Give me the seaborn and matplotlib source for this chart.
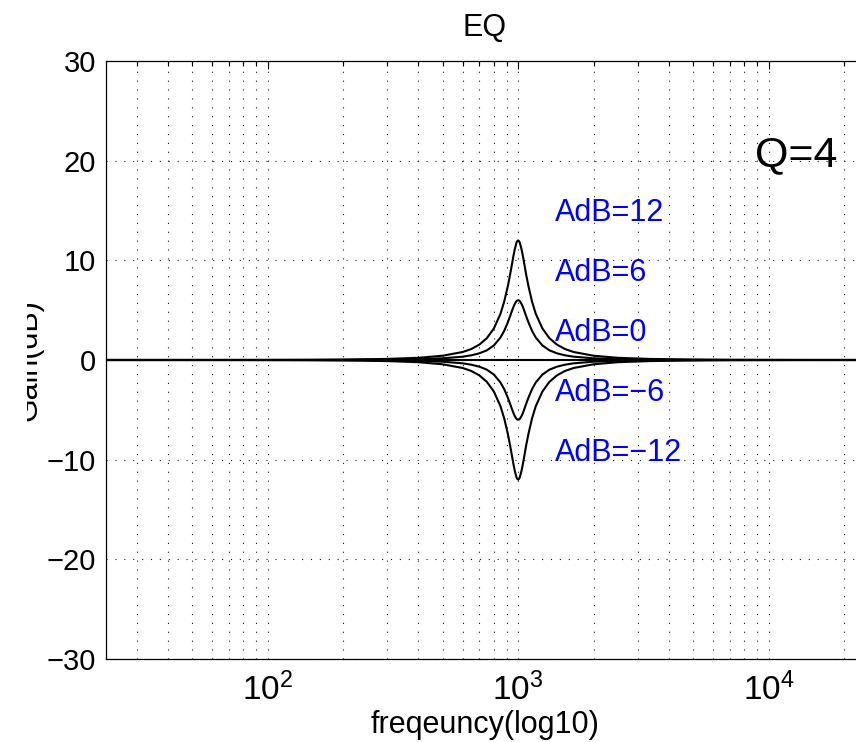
import pandas as pd
import matplotlib
matplotlib.use("Agg")
import matplotlib.pyplot as plt
import seaborn as sns
from matplotlib.ticker import LogLocator, NullFormatter, FixedLocator
from matplotlib.transforms import Bbox

# Data (peaking EQ, Q=4, centre 1 kHz)
freq_hz = [20, 50, 100, 150, 200, 300, 400, 500, 600, 650, 700, 750, 800, 850,
           880, 910, 930, 940, 950, 960, 970, 985, 990, 1000,
           1010, 1015, 1031, 1042, 1053, 1064, 1075, 1099, 1136, 1176, 1250,
           1333, 1429, 1538, 1667, 2000, 2500, 3333, 5000, 6667, 10000, 20000, 24000]

gain_p12 = [0.00, 0.00, 0.01, 0.02, 0.04, 0.11, 0.22, 0.43, 0.80, 1.10, 1.54, 2.19, 3.16, 4.63,
            5.87, 7.43, 8.65, 9.30, 9.95, 10.58, 11.14, 11.77, 11.90, 12.00,
            11.90, 11.77, 11.14, 10.58, 9.95, 9.30, 8.65, 7.43, 5.87, 4.63, 3.16,
            2.19, 1.54, 1.10, 0.80, 0.43, 0.22, 0.11, 0.04, 0.02, 0.01, 0.00, 0.00]

gain_p6 = [0.00, 0.00, 0.00, 0.01, 0.02, 0.04, 0.09, 0.17, 0.33, 0.47, 0.67, 0.97, 1.46, 2.25,
           2.93, 3.79, 4.44, 4.77, 5.09, 5.39, 5.64, 5.91, 5.96, 6.00,
           5.96, 5.91, 5.64, 5.39, 5.09, 4.77, 4.44, 3.79, 2.93, 2.25, 1.46,
           0.97, 0.67, 0.47, 0.33, 0.17, 0.09, 0.04, 0.02, 0.01, 0.00, 0.00, 0.00]

gain_0 = [0.0] * len(freq_hz)

gain_m6 = [-0.00, -0.00, -0.00, -0.01, -0.02, -0.04, -0.09, -0.17, -0.33, -0.47, -0.67, -0.97, -1.46, -2.25,
           -2.93, -3.79, -4.44, -4.77, -5.09, -5.39, -5.64, -5.91, -5.96, -6.00,
           -5.96, -5.91, -5.64, -5.39, -5.09, -4.77, -4.44, -3.79, -2.93, -2.25, -1.46,
           -0.97, -0.67, -0.47, -0.33, -0.17, -0.09, -0.04, -0.02, -0.01, -0.00, -0.00, -0.00]

gain_m12 = [-0.00, -0.00, -0.01, -0.02, -0.04, -0.11, -0.22, -0.43, -0.80, -1.10, -1.54, -2.19, -3.16, -4.63,
            -5.87, -7.43, -8.65, -9.30, -9.95, -10.58, -11.14, -11.77, -11.90, -12.00,
            -11.90, -11.77, -11.14, -10.58, -9.95, -9.30, -8.65, -7.43, -5.87, -4.63, -3.16,
            -2.19, -1.54, -1.10, -0.80, -0.43, -0.22, -0.11, -0.04, -0.02, -0.01, -0.00, -0.00]

curve_labels = ["AdB=12", "AdB=6", "AdB=0", "AdB=\u22126", "AdB=\u221212"]
curve_gains = [gain_p12, gain_p6, gain_0, gain_m6, gain_m12]

# long table for seaborn
rows = []
for name, g in zip(curve_labels, curve_gains):
    for f, v in zip(freq_hz, g):
        rows.append({"freq": f, "gain": v, "curve": name})
df = pd.DataFrame(rows)

sns.set_style("white")
plt.rcParams['font.family'] = ['Liberation Sans', 'DejaVu Sans']
plt.rcParams['mathtext.fontset'] = 'custom'
plt.rcParams['mathtext.rm'] = 'Liberation Sans'
plt.rcParams['axes.unicode_minus'] = True
plt.rcParams['text.color'] = 'black'
plt.rcParams['axes.labelcolor'] = 'black'
plt.rcParams['axes.titlecolor'] = 'black'

fig = plt.figure(figsize=(8.56, 7.42), dpi=100)
ax = fig.add_axes([106 / 856, 1 - 659 / 742, 758 / 856, 598 / 742])
ax.set_xscale("log")

sns.lineplot(data=df, x="freq", y="gain", hue="curve", palette=["black"] * 5,
             legend=False, ax=ax, linewidth=1.5, sort=False, estimator=None)

ax.set_xlim(22.66, 24000)
ax.set_ylim(-30, 30)
ax.yaxis.set_major_locator(FixedLocator([-30, -20, -10, 0, 10, 20, 30]))
ax.xaxis.set_major_locator(LogLocator(base=10))
ax.xaxis.set_minor_locator(LogLocator(base=10, subs=range(2, 10)))
ax.xaxis.set_minor_formatter(NullFormatter())

# dotted matlab-like grid
grid_kw = dict(color="0.1", linestyle=(0, (1, 7)), linewidth=0.8)
ax.grid(True, which="major", axis="both", **grid_kw)
ax.grid(True, which="minor", axis="x", **grid_kw)
ax.set_axisbelow(True)

ax.tick_params(which="both", direction="in", top=True, right=True, colors="black", width=0.8)
ax.tick_params(which="major", length=6, pad=7)
ax.tick_params(axis="y", which="major", labelsize=21)
ax.tick_params(axis="x", which="major", labelsize=24, pad=10)
ax.tick_params(which="minor", length=3.5)
for s in ax.spines.values():
    s.set_color("black")
    s.set_linewidth(0.9)

ax.set_title("EQ", fontsize=22, pad=18)
ax.set_xlabel("freqeuncy(log10)", fontsize=22, va="baseline")
ax.xaxis.set_label_coords(0.5, -(733 - 659) / 598)
ax.set_ylabel("")

for txt, g in zip(curve_labels, curve_gains):
    ax.text(1405, max(g) + min(g) + 2.7, txt, color="blue", fontsize=22, ha="left", va="center")
ax.text(8830, 20.5, "Q=4", color="black", fontsize=31, ha="left", va="center")

# y label, cut off at the left as in the original picture
yl = fig.text(44 / 856, 1 - 360 / 742, "Gain(dB)", rotation=90, ha="right", va="center", fontsize=22)
yl.set_clip_box(Bbox.from_extents(27, 0, 856, 742))
yl.set_clip_on(True)

fig.savefig("out.png", dpi=100)
